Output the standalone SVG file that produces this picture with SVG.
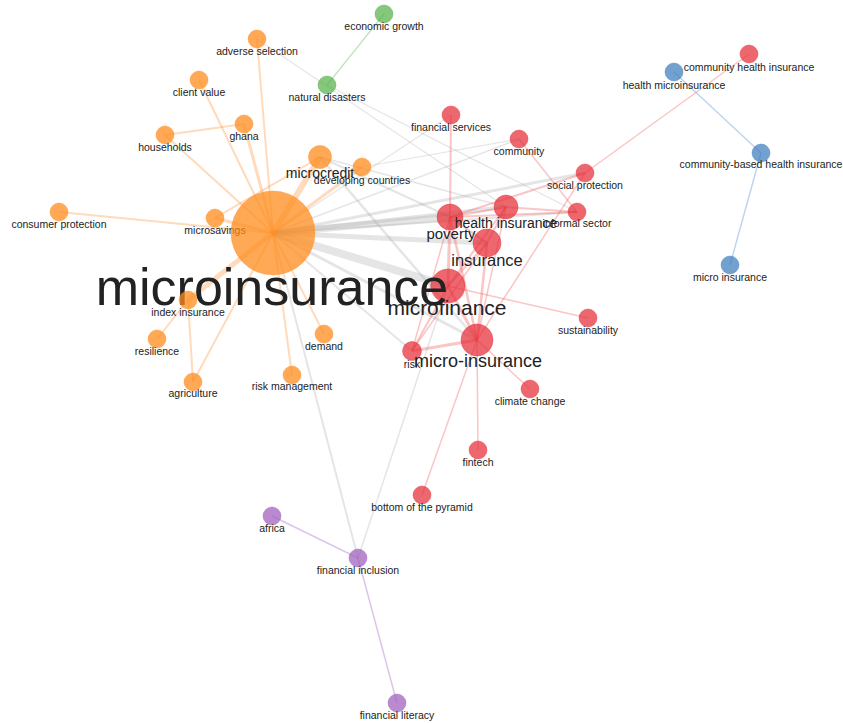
<svg xmlns="http://www.w3.org/2000/svg" width="843" height="723" viewBox="0 0 843 723">
<style>
.eo{stroke:rgb(255,150,60);stroke-opacity:0.35;fill:none}
.eg{stroke:rgb(170,170,170);stroke-opacity:0.3;fill:none}
.er{stroke:rgb(240,90,90);stroke-opacity:0.35;fill:none}
.eb{stroke:rgb(90,150,210);stroke-opacity:0.4;fill:none}
.egr{stroke:rgb(100,180,90);stroke-opacity:0.4;fill:none}
.ep{stroke:rgb(170,110,200);stroke-opacity:0.4;fill:none}
.no{fill:rgb(255,140,30);fill-opacity:0.75;stroke:rgb(255,140,30);stroke-opacity:0.4}
.nr{fill:rgb(230,45,55);fill-opacity:0.72;stroke:rgb(230,45,55);stroke-opacity:0.4}
.nb{fill:rgb(60,125,190);fill-opacity:0.72;stroke:rgb(60,125,190);stroke-opacity:0.4}
.ng{fill:rgb(80,175,70);fill-opacity:0.7;stroke:rgb(80,175,70);stroke-opacity:0.4}
.np{fill:rgb(155,90,185);fill-opacity:0.7;stroke:rgb(155,90,185);stroke-opacity:0.4}
text{font-family:"Liberation Sans",Arial,sans-serif;text-anchor:middle;fill:#222}
.s{font-size:10.5px}
</style>
<g id="connectors">
<line class="egr" x1="384" y1="14" x2="327" y2="85" stroke-width="1.2"/>
<line class="eg" x1="257" y1="39" x2="506" y2="207" stroke-width="1.2"/>
<line class="eg" x1="327" y1="85" x2="577" y2="212" stroke-width="1.2"/>
<line class="eg" x1="273" y1="233" x2="450" y2="217" stroke-width="7"/>
<line class="eg" x1="273" y1="233" x2="506" y2="207" stroke-width="4"/>
<line class="eg" x1="273" y1="233" x2="487" y2="243" stroke-width="5"/>
<line class="eg" x1="273" y1="233" x2="448" y2="286" stroke-width="8"/>
<line class="eg" x1="273" y1="233" x2="477" y2="340" stroke-width="3"/>
<line class="eg" x1="273" y1="233" x2="585" y2="173" stroke-width="3"/>
<line class="eg" x1="273" y1="233" x2="577" y2="212" stroke-width="2"/>
<line class="eg" x1="273" y1="233" x2="519" y2="139" stroke-width="1.5"/>
<line class="eg" x1="273" y1="233" x2="451" y2="115" stroke-width="1.2"/>
<line class="eg" x1="273" y1="233" x2="412" y2="351" stroke-width="2"/>
<line class="eg" x1="273" y1="233" x2="358" y2="558" stroke-width="2"/>
<line class="eg" x1="320" y1="157" x2="477" y2="340" stroke-width="2.5"/>
<line class="eg" x1="320" y1="157" x2="450" y2="217" stroke-width="2"/>
<line class="eg" x1="320" y1="157" x2="506" y2="207" stroke-width="1.5"/>
<line class="eg" x1="362" y1="167" x2="519" y2="139" stroke-width="1.2"/>
<line class="eg" x1="448" y1="286" x2="358" y2="558" stroke-width="1.5"/>
<line class="eo" x1="273" y1="233" x2="257" y2="39" stroke-width="2"/>
<line class="eo" x1="273" y1="233" x2="199" y2="80" stroke-width="2"/>
<line class="eo" x1="273" y1="233" x2="244" y2="124" stroke-width="3"/>
<line class="eo" x1="273" y1="233" x2="165" y2="135" stroke-width="2"/>
<line class="eo" x1="273" y1="233" x2="320" y2="157" stroke-width="6"/>
<line class="eo" x1="273" y1="233" x2="362" y2="167" stroke-width="3"/>
<line class="eo" x1="273" y1="233" x2="59" y2="212" stroke-width="2"/>
<line class="eo" x1="273" y1="233" x2="215" y2="218" stroke-width="3"/>
<line class="eo" x1="273" y1="233" x2="188" y2="300" stroke-width="5"/>
<line class="eo" x1="273" y1="233" x2="193" y2="382" stroke-width="2"/>
<line class="eo" x1="273" y1="233" x2="324" y2="334" stroke-width="2"/>
<line class="eo" x1="273" y1="233" x2="292" y2="375" stroke-width="2"/>
<line class="eo" x1="165" y1="135" x2="244" y2="124" stroke-width="2"/>
<line class="eo" x1="188" y1="300" x2="193" y2="382" stroke-width="2"/>
<line class="eo" x1="188" y1="300" x2="157" y2="339" stroke-width="2"/>
<line class="eo" x1="215" y1="218" x2="320" y2="157" stroke-width="2"/>
<line class="er" x1="451" y1="115" x2="450" y2="217" stroke-width="2"/>
<line class="er" x1="450" y1="217" x2="506" y2="207" stroke-width="2"/>
<line class="er" x1="450" y1="217" x2="487" y2="243" stroke-width="2"/>
<line class="er" x1="450" y1="217" x2="448" y2="286" stroke-width="3"/>
<line class="er" x1="450" y1="217" x2="477" y2="340" stroke-width="2.5"/>
<line class="er" x1="450" y1="217" x2="585" y2="173" stroke-width="2"/>
<line class="er" x1="450" y1="217" x2="577" y2="212" stroke-width="2"/>
<line class="er" x1="450" y1="217" x2="412" y2="351" stroke-width="1.5"/>
<line class="er" x1="506" y1="207" x2="577" y2="212" stroke-width="2"/>
<line class="er" x1="506" y1="207" x2="487" y2="243" stroke-width="2"/>
<line class="er" x1="506" y1="207" x2="448" y2="286" stroke-width="2"/>
<line class="er" x1="506" y1="207" x2="477" y2="340" stroke-width="1.5"/>
<line class="er" x1="519" y1="139" x2="577" y2="212" stroke-width="1.5"/>
<line class="er" x1="585" y1="173" x2="749" y2="54" stroke-width="1.5"/>
<line class="er" x1="585" y1="173" x2="477" y2="340" stroke-width="1.5"/>
<line class="er" x1="487" y1="243" x2="477" y2="340" stroke-width="2.5"/>
<line class="er" x1="487" y1="243" x2="448" y2="286" stroke-width="2"/>
<line class="er" x1="487" y1="243" x2="412" y2="351" stroke-width="1.5"/>
<line class="er" x1="448" y1="286" x2="477" y2="340" stroke-width="3"/>
<line class="er" x1="448" y1="286" x2="412" y2="351" stroke-width="2"/>
<line class="er" x1="448" y1="286" x2="588" y2="318" stroke-width="1.5"/>
<line class="er" x1="412" y1="351" x2="477" y2="340" stroke-width="3"/>
<line class="er" x1="477" y1="340" x2="530" y2="389" stroke-width="1.5"/>
<line class="er" x1="477" y1="340" x2="478" y2="450" stroke-width="1.5"/>
<line class="er" x1="477" y1="340" x2="422" y2="495" stroke-width="1.5"/>
<line class="eb" x1="674" y1="72" x2="761" y2="153" stroke-width="1.5"/>
<line class="eb" x1="761" y1="153" x2="730" y2="265" stroke-width="1.5"/>
<line class="ep" x1="272" y1="516" x2="358" y2="558" stroke-width="1.5"/>
<line class="ep" x1="358" y1="558" x2="397" y2="703" stroke-width="1.5"/>
</g>
<g id="n-microcredit"><circle class="no" cx="320" cy="157" r="11.5"/><text x="320" y="178" font-size="14">microcredit</text></g>
<g id="n-developing-countries"><circle class="no" cx="362" cy="167" r="9"/><text class="s" x="362" y="184">developing countries</text></g>
<g id="n-adverse-selection"><circle class="no" cx="257" cy="39" r="9"/><text class="s" x="257" y="55">adverse selection</text></g>
<g id="n-client-value"><circle class="no" cx="199" cy="80" r="9"/><text class="s" x="199" y="96">client value</text></g>
<g id="n-ghana"><circle class="no" cx="244" cy="124" r="9"/><text class="s" x="244" y="140">ghana</text></g>
<g id="n-households"><circle class="no" cx="165" cy="135" r="9"/><text class="s" x="165" y="151">households</text></g>
<g id="n-consumer-protection"><circle class="no" cx="59" cy="212" r="9"/><text class="s" x="59" y="228">consumer protection</text></g>
<g id="n-microsavings"><circle class="no" cx="215" cy="218" r="9"/><text class="s" x="215" y="234">microsavings</text></g>
<g id="n-demand"><circle class="no" cx="324" cy="334" r="9"/><text class="s" x="324" y="350">demand</text></g>
<g id="n-risk-management"><circle class="no" cx="292" cy="375" r="9"/><text class="s" x="292" y="390">risk management</text></g>
<g id="n-resilience"><circle class="no" cx="157" cy="339" r="9"/><text class="s" x="157" y="355">resilience</text></g>
<g id="n-agriculture"><circle class="no" cx="193" cy="382" r="9"/><text class="s" x="193" y="397">agriculture</text></g>
<g id="n-economic-growth"><circle class="ng" cx="384" cy="14" r="9"/><text class="s" x="384" y="30">economic growth</text></g>
<g id="n-natural-disasters"><circle class="ng" cx="327" cy="85" r="9"/><text class="s" x="327" y="101">natural disasters</text></g>
<g id="n-financial-services"><circle class="nr" cx="451" cy="115" r="9"/><text class="s" x="451" y="131">financial services</text></g>
<g id="n-community"><circle class="nr" cx="519" cy="139" r="9"/><text class="s" x="519" y="155">community</text></g>
<g id="n-social-protection"><circle class="nr" cx="585" cy="173" r="9"/><text class="s" x="585" y="189">social protection</text></g>
<g id="n-informal-sector"><circle class="nr" cx="577" cy="212" r="9"/><text class="s" x="577" y="227">informal sector</text></g>
<g id="n-community-health-insurance"><circle class="nr" cx="749" cy="54" r="9"/><text class="s" x="749" y="71">community health insurance</text></g>
<g id="n-sustainability"><circle class="nr" cx="588" cy="318" r="9"/><text class="s" x="588" y="334">sustainability</text></g>
<g id="n-climate-change"><circle class="nr" cx="530" cy="389" r="9"/><text class="s" x="530" y="405">climate change</text></g>
<g id="n-fintech"><circle class="nr" cx="478" cy="450" r="9"/><text class="s" x="478" y="466">fintech</text></g>
<g id="n-bottom-of-the-pyramid"><circle class="nr" cx="422" cy="495" r="9"/><text class="s" x="422" y="511">bottom of the pyramid</text></g>
<g id="n-health-microinsurance"><circle class="nb" cx="674" cy="72" r="9"/><text class="s" x="674" y="89">health microinsurance</text></g>
<g id="n-community-based-health-insurance"><circle class="nb" cx="761" cy="153" r="9"/><text class="s" x="761" y="168">community-based health insurance</text></g>
<g id="n-micro-insurance-blue"><circle class="nb" cx="730" cy="265" r="9"/><text class="s" x="730" y="281">micro insurance</text></g>
<g id="n-africa"><circle class="np" cx="272" cy="516" r="9"/><text class="s" x="272" y="532">africa</text></g>
<g id="n-financial-inclusion"><circle class="np" cx="358" cy="558" r="9"/><text class="s" x="358" y="574">financial inclusion</text></g>
<g id="n-financial-literacy"><circle class="np" cx="397" cy="703" r="9"/><text class="s" x="397" y="719">financial literacy</text></g>
<g id="n-poverty"><circle class="nr" cx="450" cy="217" r="13"/><text x="451" y="239" font-size="15">poverty</text></g>
<g id="n-health-insurance"><circle class="nr" cx="506" cy="207" r="12"/><text x="506" y="228" font-size="14">health insurance</text></g>
<g id="n-insurance"><circle class="nr" cx="487" cy="243" r="14"/><text x="487" y="266" font-size="16.5">insurance</text></g>
<g id="n-microfinance"><circle class="nr" cx="448" cy="286" r="17"/><text x="447" y="315" font-size="21">microfinance</text></g>
<g id="n-risk"><circle class="nr" cx="412" cy="351" r="9.5"/><text class="s" x="412" y="368">risk</text></g>
<g id="n-micro-insurance"><circle class="nr" cx="477" cy="340" r="16"/><text x="478" y="367" font-size="18">micro-insurance</text></g>
<g id="n-microinsurance"><circle class="no" cx="273" cy="233" r="42"/><text x="272" y="305" font-size="52">microinsurance</text></g>
<g id="n-index-insurance"><circle class="no" cx="188" cy="300" r="9"/><text class="s" x="188" y="316">index insurance</text></g>
</svg>
